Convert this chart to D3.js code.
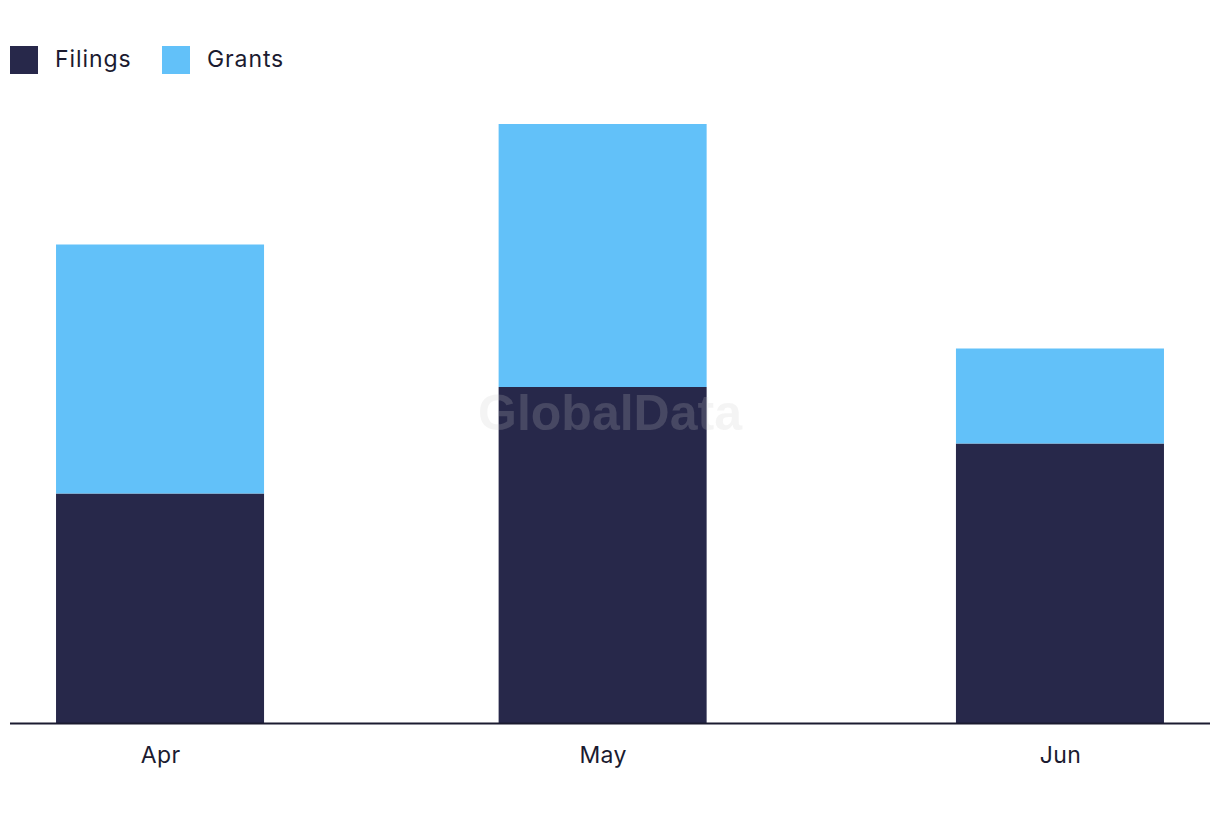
<!DOCTYPE html>
<html>
<head>
<meta charset="utf-8">
<script src="https://cdn.jsdelivr.net/npm/d3@7"></script>
<style>
html,body{margin:0;padding:0;background:#fff;}
svg{display:block;}
text{font-family:Inter,"Open Sans",sans-serif;}
</style>
</head>
<body>
<svg id="chart" width="1220" height="822"></svg>
<script>
const months = ["2023-04-01","2023-05-01","2023-06-01"];
const monthLabels = ["Apr","May","Jun"];
const filings = [46, 67.3, 56];
const grants = [49.8, 52.6, 19];
const seriesNames = ["Filings","Grants"];
const seriesColors = ["#27284a","#62c1f9"];

const svg = d3.select("#chart");
const left = 10, right = 1210, baseY = 723.5;
const parse = d3.utcParse("%Y-%m-%d");
const dates = months.map(parse);
const day = 864e5;
const pad = 10.17 * day;
const x = d3.scaleUtc()
  .domain([new Date(dates[0].getTime() - pad), new Date(dates[2].getTime() + pad)])
  .range([left, right]);
const barW = x(new Date(dates[0].getTime() + 14.1 * day)) - x(dates[0]);
const y = d3.scaleLinear().domain([0, 120]).range([baseY, 123.5]);

const table = dates.map((d, i) => ({date: d, Filings: filings[i], Grants: grants[i]}));
const stack = d3.stack().keys(seriesNames)(table);

const g = svg.append("g");
stack.forEach((layer, li) => {
  g.selectAll(null).data(layer).enter().append("rect")
    .attr("x", d => x(d.data.date) - barW / 2)
    .attr("width", barW)
    .attr("y", d => y(d[1]))
    .attr("height", d => y(d[0]) - y(d[1]))
    .attr("fill", seriesColors[li]);
});

// watermark
svg.append("text")
  .attr("x", 610).attr("y", 430)
  .attr("text-anchor", "middle")
  .style("font-family", "'Liberation Sans', Arial, sans-serif")
  .style("font-weight", "bold")
  .style("font-size", "50px")
  .attr("fill", "#c8c8c8").attr("fill-opacity", 0.2)
  .text("GlobalData");

// x axis
const xAxis = d3.axisBottom(x)
  .tickValues(dates)
  .tickFormat((d, i) => monthLabels[i])
  .tickSize(0).tickPadding(23);
const ax = svg.append("g").attr("transform", `translate(0,${baseY})`).call(xAxis);
ax.select(".domain").attr("stroke", "#1b1b30").attr("stroke-width", 2).attr("d", `M${left},0H${right}`);
ax.selectAll(".tick text")
  .style("font-family", "Inter,'Open Sans',sans-serif")
  .style("font-size", "23px").style("letter-spacing", "0.4px").attr("fill", "#1b1b30");

// legend
const legend = svg.append("g");
const legendX = [10, 162];
seriesNames.forEach((n, i) => {
  legend.append("rect").attr("x", legendX[i]).attr("y", 46).attr("width", 28).attr("height", 28)
    .attr("fill", seriesColors[i]);
  legend.append("text").attr("x", legendX[i] + 45).attr("y", 66.5)
    .style("font-size", "23px").style("letter-spacing", "0.9px").attr("fill", "#1b1b30").text(n);
});
</script>
</body>
</html>
